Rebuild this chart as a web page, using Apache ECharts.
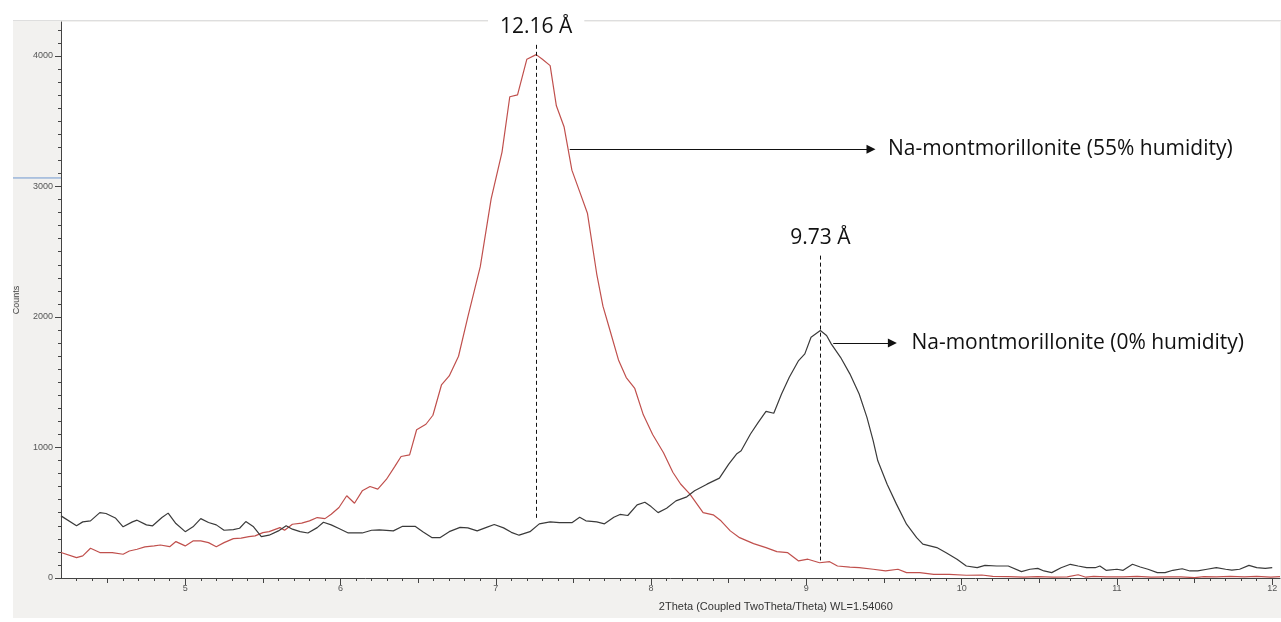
<!DOCTYPE html>
<html>
<head>
<meta charset="utf-8">
<script src="https://cdn.jsdelivr.net/npm/echarts@6/dist/echarts.min.js"></script>
<style>
  html, body { margin: 0; padding: 0; background: #fff; }
  #chart { width: 1281px; height: 622px; }
</style>
</head>
<body>
<div id="chart"></div>
<script>
// Na-montmorillonite, 55% humidity (red trace)
const THETA_55 = [
  4.20, 4.30, 4.34, 4.39, 4.45, 4.53, 4.60, 4.64, 4.69, 4.74, 4.80, 4.84, 4.90, 4.94,
  5.00, 5.05, 5.10, 5.15, 5.20, 5.25, 5.31, 5.36, 5.41, 5.45, 5.50, 5.54, 5.61, 5.64,
  5.69, 5.75, 5.80, 5.85, 5.90, 5.94, 5.99, 6.04, 6.09, 6.14, 6.19, 6.24, 6.295, 6.35,
  6.39, 6.445, 6.49, 6.55, 6.595, 6.65, 6.70, 6.76, 6.82, 6.90, 6.97, 7.04, 7.09, 7.14,
  7.20, 7.26, 7.30, 7.35, 7.39, 7.44, 7.49, 7.54, 7.59, 7.65, 7.69, 7.73, 7.79, 7.84,
  7.895, 7.95, 8.01, 8.08, 8.14, 8.19, 8.25, 8.335, 8.40, 8.45, 8.51, 8.57, 8.66, 8.74,
  8.81, 8.88, 8.95, 9.01, 9.085, 9.15, 9.20, 9.28, 9.34, 9.43, 9.51, 9.59, 9.645, 9.73,
  9.82, 9.92, 10.03, 10.13, 10.20, 10.30, 10.40, 10.49, 10.59, 10.68, 10.75, 10.80, 10.85,
  10.93, 11.04, 11.13, 11.22, 11.33, 11.41, 11.50, 11.56, 11.64, 11.73, 11.82, 11.90,
  11.99, 12.05
];
const COUNTS_55 = [
  195, 156, 169, 228, 195, 195, 182, 207, 220, 238, 246, 253, 240, 279,
  246, 284, 284, 271, 240, 271, 302, 305, 317, 323, 348, 355, 386, 366,
  412, 420, 438, 463, 455, 489, 540, 630, 573, 668, 701, 681, 755, 855,
  931, 944, 1136, 1178, 1247, 1479, 1548, 1699, 2001, 2385, 2905, 3263, 3687, 3701,
  3975, 4010, 3975, 3926, 3618, 3455, 3125, 2960, 2795, 2329, 2083, 1919, 1671, 1536,
  1452, 1250, 1100, 960, 810, 720, 643, 501, 484, 438, 361, 309, 263, 233,
  202, 194, 131, 144, 117, 125, 92, 84, 79, 67, 54, 67, 41, 41,
  28, 28, 21, 23, 12, 10, 6, 10, 6, 8, 25, 6, 12,
  8, 8, 12, 6, 8, 8, 3, 10, 8, 12, 8, 12,
  6, 10
];

// Na-montmorillonite, 0% humidity (dark trace)
const THETA_0 = [
  4.20, 4.30, 4.34, 4.39, 4.45, 4.49, 4.55, 4.60, 4.66, 4.69, 4.75, 4.79, 4.85, 4.89,
  4.94, 5.00, 5.05, 5.10, 5.15, 5.20, 5.25, 5.31, 5.35, 5.39, 5.44, 5.49, 5.54, 5.60,
  5.65, 5.69, 5.74, 5.79, 5.85, 5.89, 5.94, 5.99, 6.05, 6.10, 6.14, 6.20, 6.25, 6.34,
  6.40, 6.48, 6.53, 6.59, 6.64, 6.70, 6.77, 6.82, 6.88, 6.94, 6.99, 7.05, 7.10, 7.15,
  7.22, 7.28, 7.35, 7.41, 7.49, 7.54, 7.58, 7.65, 7.70, 7.76, 7.80, 7.85, 7.91, 7.96,
  8.00, 8.045, 8.10, 8.16, 8.23, 8.28, 8.36, 8.44, 8.50, 8.55, 8.58, 8.64, 8.69, 8.74,
  8.79, 8.84, 8.89, 8.95, 8.99, 9.03, 9.09, 9.13, 9.16, 9.22, 9.28, 9.34, 9.39, 9.43,
  9.46, 9.52, 9.58, 9.645, 9.71, 9.75, 9.84, 9.90, 9.97, 10.03, 10.10, 10.15, 10.225,
  10.30, 10.385, 10.44, 10.49, 10.53, 10.58, 10.64, 10.70, 10.75, 10.805, 10.86, 10.89,
  10.93, 11.00, 11.04, 11.10, 11.15, 11.20, 11.26, 11.31, 11.36, 11.42, 11.47, 11.52,
  11.58, 11.64, 11.70, 11.74, 11.79, 11.85, 11.90, 11.955, 12.00
];
const COUNTS_0 = [
  476, 400, 430, 438, 501, 494, 460, 392, 430, 443, 407, 400, 463, 497,
  417, 355, 392, 455, 425, 407, 366, 371, 381, 432, 392, 317, 328, 361,
  400, 374, 355, 345, 386, 427, 407, 379, 345, 345, 345, 366, 369, 361,
  396, 396, 355, 309, 309, 355, 388, 384, 361, 388, 410, 384, 350, 328,
  355, 415, 430, 424, 424, 465, 438, 430, 415, 465, 487, 479, 560, 580,
  547, 501, 535, 591, 622, 668, 719, 765, 873, 950, 975, 1103, 1192, 1277,
  1262, 1410, 1538, 1666, 1717, 1845, 1896, 1858, 1794, 1691, 1564, 1410, 1231, 1052,
  898, 719, 566, 412, 309, 259, 233, 194, 144, 92, 79, 97, 92,
  92, 49, 67, 74, 54, 41, 79, 105, 92, 79, 79, 92,
  59, 67, 59, 105, 84, 67, 41, 41, 59, 71, 54, 54,
  67, 79, 67, 61, 67, 97, 79, 74, 79
];

// axes
const X_MIN = 4.2;
const X_MAX = 12.05;
const Y_MIN = 0;
const Y_MAX = 4260;
const X_TICKS = [5, 6, 7, 8, 9, 10, 11, 12];
const X_HALF_TICKS = [4.5, 5.5, 6.5, 7.5, 8.5, 9.5, 10.5, 11.5];
const Y_TICKS = [0, 1000, 2000, 3000, 4000];

const xMinorTicks = [];
for (let t = 43; t <= 120; t++) xMinorTicks.push(t / 10);
const yMinorTicks = [];
for (let t = 1; t <= 42; t++) yMinorTicks.push(t * 100);

// annotations: [2theta, counts]
const PEAK_55 = { label: "12.16 Å", x: 7.26, from: 4085, to: 450 };
const PEAK_0 = { label: "9.73 Å", x: 9.09, from: 2470, to: 135 };
const ARROW_55 = { label: "Na-montmorillonite (55% humidity)", from: [7.476, 3285], to: [9.416, 3285] };
const ARROW_0 = { label: "Na-montmorillonite (0% humidity)", from: [9.173, 1801], to: [9.554, 1801] };
const BLUE_MARK_AT = 3065;
const X_TITLE_AT = 8.05;

const RED = "#c0504d";
const DARK = "#3a3a3a";
const AXIS_FONT = "'Liberation Sans', Arial, sans-serif";
const NOTE_FONT = "'Open Sans', 'Noto Sans', sans-serif";

function zip(xs, ys) {
  return xs.map((x, i) => [x, ys[i]]);
}

function tickAxis(kind, values, length, extra) {
  const range = kind === "x" ? { min: X_MIN, max: X_MAX } : { min: Y_MIN, max: Y_MAX };
  return Object.assign({
    type: "value",
    ...range,
    position: kind === "x" ? "bottom" : "left",
    axisLine: { show: false },
    axisTick: {
      show: true,
      customValues: values,
      length: length,
      lineStyle: { color: "#444", width: 1 },
    },
    axisLabel: { show: false },
    splitLine: { show: false },
  }, extra || {});
}

function dashedPeak(peak) {
  return {
    silent: true,
    symbol: ["none", "none"],
    lineStyle: { color: "#111", width: 1, type: [4, 3] },
    label: {
      show: true,
      position: "start",
      formatter: peak.label,
      fontFamily: NOTE_FONT,
      fontSize: 21,
      color: "#111",
      distance: 7,
      backgroundColor: "#fff",
      padding: [0, 12],
    },
    data: [[{ coord: [peak.x, peak.from] }, { coord: [peak.x, peak.to] }]],
  };
}

function arrow(a, gap) {
  return {
    silent: true,
    symbol: ["none", "triangle"],
    symbolSize: 9,
    lineStyle: { color: "#111", width: 1, type: "solid" },
    label: {
      show: true,
      position: "end",
      formatter: a.label,
      fontFamily: NOTE_FONT,
      fontSize: 21,
      color: "#111",
      distance: gap,
    },
    data: [[{ coord: a.from }, { coord: a.to }]],
  };
}

const chart = echarts.init(document.getElementById("chart"));

const option = {
  animation: false,
  backgroundColor: "#fff",
  grid: {
    left: 61,
    right: 1,
    top: 22,
    bottom: 44,
    show: true,
    backgroundColor: "#fff",
    borderWidth: 0,
  },
  xAxis: [
    tickAxis("x", X_TICKS, 7, {
      axisLine: { show: true, lineStyle: { color: "#444", width: 1 } },
      axisLabel: {
        show: true,
        customValues: X_TICKS,
        formatter: (v) => String(v),
        fontFamily: AXIS_FONT,
        fontSize: 9,
        color: "#555",
        margin: 6,
      },
    }),
    tickAxis("x", X_HALF_TICKS, 5),
    tickAxis("x", xMinorTicks, 3),
  ],
  yAxis: [
    tickAxis("y", Y_TICKS, 6, {
      name: "Counts",
      nameLocation: "middle",
      nameGap: 40,
      nameRotate: 90,
      nameTextStyle: { fontFamily: AXIS_FONT, fontSize: 9, color: "#444" },
      axisLine: { show: true, lineStyle: { color: "#444", width: 1 } },
      axisLabel: {
        show: true,
        customValues: Y_TICKS,
        formatter: (v) => String(v),
        fontFamily: AXIS_FONT,
        fontSize: 9,
        color: "#555",
        margin: 8,
      },
    }),
    tickAxis("y", yMinorTicks, 3),
  ],
  series: [
    {
      name: "55% humidity",
      type: "line",
      xAxisIndex: 0,
      yAxisIndex: 0,
      data: zip(THETA_55, COUNTS_55),
      showSymbol: false,
      smooth: false,
      lineStyle: { color: RED, width: 1.2 },
      itemStyle: { color: RED },
      markLine: dashedPeak(PEAK_55),
    },
    {
      name: "0% humidity",
      type: "line",
      xAxisIndex: 0,
      yAxisIndex: 0,
      data: zip(THETA_0, COUNTS_0),
      showSymbol: false,
      smooth: false,
      lineStyle: { color: DARK, width: 1.2 },
      itemStyle: { color: DARK },
      markLine: dashedPeak(PEAK_0),
    },
    {
      name: "arrow 55",
      type: "line",
      data: [],
      markLine: arrow(ARROW_55, 17),
    },
    {
      name: "arrow 0",
      type: "line",
      data: [],
      markLine: arrow(ARROW_0, 19),
    },
  ],
};

chart.setOption(option);

// frame decorations, placed from the axis scales
const blueY = chart.convertToPixel({ gridIndex: 0 }, [X_MIN, BLUE_MARK_AT])[1];
const axisOrigin = chart.convertToPixel({ gridIndex: 0 }, [X_MIN, Y_MIN]);
const titleX = chart.convertToPixel({ gridIndex: 0 }, [X_TITLE_AT, Y_MIN])[0];

chart.setOption({
  graphic: [
    {
      type: "rect",
      z: -10,
      shape: { x: 13, y: 20, width: 1268, height: 598 },
      style: { fill: "#f2f1ef" },
    },
    {
      type: "line",
      z: -9,
      shape: { x1: 13, y1: 20.5, x2: 1281, y2: 20.5 },
      style: { stroke: "#dedede", lineWidth: 1 },
    },
    {
      type: "line",
      shape: { x1: 13, y1: blueY, x2: axisOrigin[0], y2: blueY },
      style: { stroke: "#6f97cf", lineWidth: 1 },
    },
    {
      type: "text",
      x: titleX,
      y: axisOrigin[1] + 29,
      style: {
        text: "2Theta (Coupled TwoTheta/Theta) WL=1.54060",
        fontFamily: AXIS_FONT,
        fontSize: 11,
        fill: "#333",
        textVerticalAlign: "middle",
      },
    },
  ],
});
</script>
</body>
</html>
